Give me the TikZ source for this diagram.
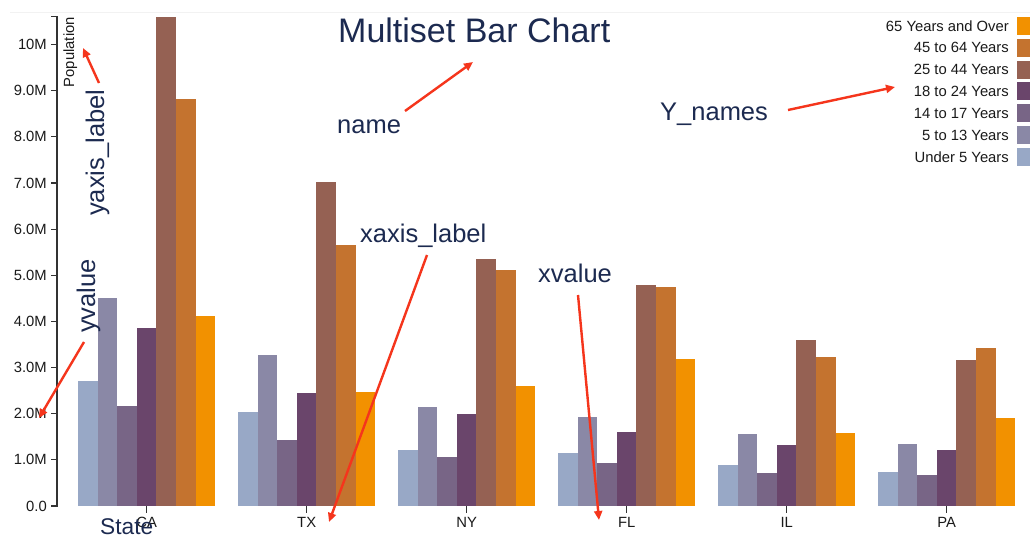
\documentclass[tikz,border=0pt]{standalone}
\usepackage{fontspec}
\setmainfont{Liberation Sans}
\usetikzlibrary{arrows.meta}
\definecolor{bar0}{HTML}{98A8C6}
\definecolor{bar1}{HTML}{8A88A6}
\definecolor{bar2}{HTML}{786586}
\definecolor{bar3}{HTML}{6A456B}
\definecolor{bar4}{HTML}{956153}
\definecolor{bar5}{HTML}{C4732F}
\definecolor{bar6}{HTML}{F29100}
\definecolor{navy}{HTML}{1C2A50}
\definecolor{arrowred}{HTML}{F5351C}
\definecolor{axisgray}{HTML}{333333}
\definecolor{lbltext}{HTML}{1A1A1A}
\begin{document}
\begin{tikzpicture}[x=1pt,y=-1pt,
  axisline/.style={draw=axisgray,line width=1.2pt},
  chartlbl/.style={inner sep=0pt,text=lbltext,font=\fontsize{14.8}{17}\selectfont},
  annot/.style={inner sep=0pt,text=navy,font=\fontsize{25.5}{30}\selectfont},
  redarrow/.style={draw=arrowred,line width=2.4pt,-{Triangle[length=9pt,width=8pt]}}]
\useasboundingbox (0,0) rectangle (1030,535);
\fill[white] (0,0) rectangle (1030,535);
\draw[gray!10,line width=0.8pt] (10,12) -- (1030,12);
% bars
\foreach \st/\vals [count=\g from 0] in {
  CA/{2.704659,4.499890,2.159981,3.853788,10.604510,8.819342,4.114496},
  TX/{2.027307,3.277946,1.420518,2.454721,7.017731,5.656528,2.472223},
  NY/{1.208495,2.141490,1.058031,1.999120,5.355235,5.120254,2.607672},
  FL/{1.140516,1.938695,0.925060,1.607297,4.782119,4.746856,3.187797},
  IL/{0.894368,1.558919,0.725973,1.311479,3.596343,3.239173,1.575308},
  PA/{0.737462,1.345341,0.679201,1.203944,3.157759,3.414001,1.910571}}{
  \pgfmathsetmacro\cx{146.7+160*\g}
  \foreach \v [count=\k from 0] in \vals {
    \pgfmathsetmacro\xl{\cx-68.5+19.571*\k}
    \pgfmathsetmacro\xr{\xl+19.571}
    \pgfmathsetmacro\yt{506-46.15*\v}
    \fill[bar\k] (\xl,506) rectangle (\xr,\yt);
  }
  \draw[axisline] (\cx,506) -- (\cx,513);
  \node[chartlbl,anchor=base] (st\st) at (\cx,527) {\st};
}
% y axis
\draw[axisline] (51,16.6) -- (57,16.6) -- (57,506) -- (51,506);
\foreach \t/\lab in {0/0.0,1/1.0M,2/2.0M,3/3.0M,4/4.0M,5/5.0M,6/6.0M,7/7.0M,8/8.0M,9/9.0M,10/10M}{
  \pgfmathsetmacro\ty{506-46.15*\t}
  \draw[axisline] (51,\ty) -- (57,\ty);
  \node[chartlbl,anchor=east] (yt\t) at (47,\ty) {\lab};
}
\node[chartlbl,rotate=90,anchor=base east] (ylab) at (74,17) {Population};
% legend
\foreach \lab [count=\i from 0] in {65 Years and Over,45 to 64 Years,25 to 44 Years,18 to 24 Years,14 to 17 Years,5 to 13 Years,Under 5 Years}{
  \pgfmathsetmacro\ly{17+21.8*\i}
  \pgfmathtruncatemacro\ci{6-\i}
  \fill[bar\ci] (1017,\ly) rectangle (1030,\ly+18);
  \node[chartlbl,anchor=east] (lg\i) at (1009,\ly+9) {\lab};
}
% annotations
\node[annot,anchor=base west,font=\fontsize{34}{40}\selectfont] (title) at (338,43) {Multiset Bar Chart};
\node[annot,anchor=base west] (name) at (337,133) {name};
\node[annot,anchor=base west] (ynames) at (660,120) {Y\_names};
\node[annot,anchor=base west] (xaxislabel) at (360,242) {xaxis\_label};
\node[annot,anchor=base west] (xvalue) at (538,282) {xvalue};
\node[annot,anchor=base west,rotate=90] (yaxislabel) at (104,216) {yaxis\_label};
\node[annot,anchor=base west,rotate=90] (yvalue) at (95,333) {yvalue};
\node[annot,anchor=base west,font=\fontsize{22.7}{27}\selectfont] (state) at (100,534) {State};
% arrows
\coordinate (nameS) at (405,111); \coordinate (nameE) at (473,62);
\coordinate (yaxS) at (99,83); \coordinate (yaxE) at (83,48);
\coordinate (yvS) at (84,342); \coordinate (yvE) at (39,418);
\coordinate (ynS) at (788,110); \coordinate (ynE) at (895,87);
\coordinate (xaS) at (427,255); \coordinate (xaE) at (329,522);
\coordinate (xvS) at (578,295); \coordinate (xvE) at (599,520);
\draw[redarrow] (nameS) -- (nameE);
\draw[redarrow] (yaxS) -- (yaxE);
\draw[redarrow] (yvS) -- (yvE);
\draw[redarrow] (ynS) -- (ynE);
\draw[redarrow] (xaS) -- (xaE);
\draw[redarrow] (xvS) -- (xvE);
\end{tikzpicture}
\end{document}
